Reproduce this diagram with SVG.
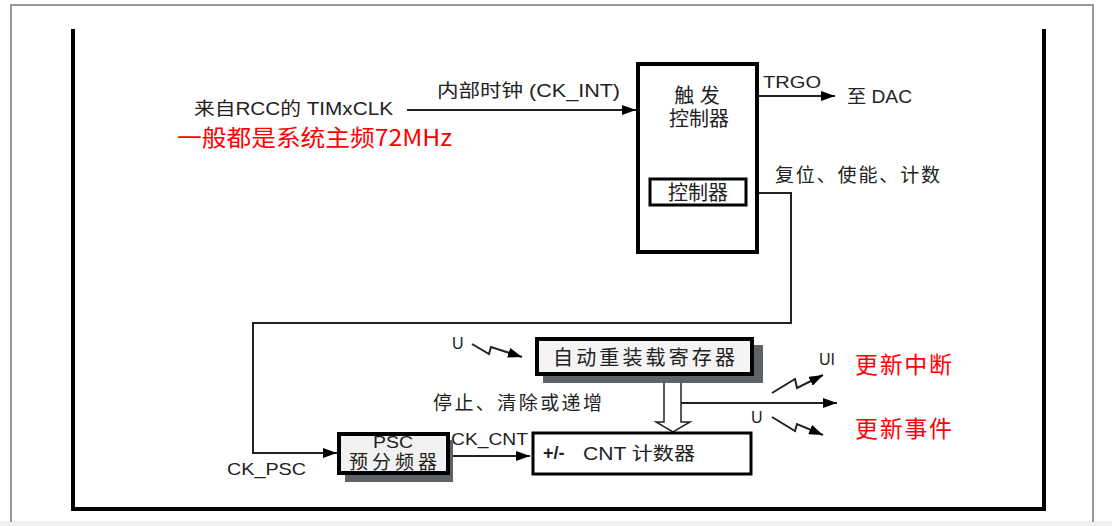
<svg xmlns="http://www.w3.org/2000/svg" width="1112" height="526" viewBox="0 0 1112 526">
<defs>
<marker id="ah" markerUnits="userSpaceOnUse" markerWidth="14" markerHeight="10" refX="14" refY="5" orient="auto"><path d="M0,0 L14,5 L0,10 z" fill="#000"/></marker>
<style>
.t{font-family:"Liberation Sans","Noto Sans CJK SC",sans-serif;fill:#222}
.r{font-family:"Noto Sans CJK SC","Liberation Sans",sans-serif;fill:#ff0000}
.c{fill:none;stroke:#222;stroke-width:2}
.box{stroke:#000;stroke-width:4}
.sh{fill:#5f6366}
</style>
</defs>
<rect width="1112" height="526" fill="#fff"/>
<rect y="521" width="1112" height="5" fill="#f0f0f0"/>
<path d="M11,522 L11,5 L1093,5 L1093,522" fill="none" stroke="#777" stroke-width="1.5"/>
<path d="M73,29 L73,509 L1044,509 L1044,29" fill="none" stroke="#000" stroke-width="4"/>

<g id="connectors">
<line class="c" x1="407" y1="110" x2="636" y2="110" marker-end="url(#ah)"/>
<line class="c" x1="759" y1="96" x2="835" y2="96" marker-end="url(#ah)"/>
<path class="c" d="M747,193 L791,193 L791,323 L253,323 L253,453 L337,453" marker-end="url(#ah)"/>
<line class="c" x1="452" y1="456" x2="530" y2="456" marker-end="url(#ah)"/>
<path class="c" d="M472,344 L489,354 L491,347 L522,357" marker-end="url(#ah)"/>
<path d="M664,375 L664,422 L656,422 L673,432 L690,422 L681,422 L681,375" fill="#fff" stroke="#222" stroke-width="1.5"/>
<line class="c" x1="681" y1="403" x2="837" y2="403" marker-end="url(#ah)"/>
<path class="c" d="M772,393 L795,379 L797,388 L823,375" marker-end="url(#ah)"/>
<path class="c" d="M772,417 L795,431 L797,424 L823,435" marker-end="url(#ah)"/>
</g>

<g id="labels">
<text class="t" x="194" y="115" font-size="18" textLength="199" lengthAdjust="spacingAndGlyphs">来自RCC的 TIMxCLK</text>
<text class="r" x="177" y="146" font-size="23" textLength="275" lengthAdjust="spacingAndGlyphs">一般都是系统主频72MHz</text>
<text class="t" x="437" y="97" font-size="18" textLength="183" lengthAdjust="spacingAndGlyphs">内部时钟 (CK_INT)</text>
<text class="t" x="763" y="88" font-size="16" textLength="58" lengthAdjust="spacingAndGlyphs">TRGO</text>
<text class="t" x="847" y="103" font-size="18" textLength="65" lengthAdjust="spacingAndGlyphs">至 DAC</text>
<text class="t" x="775" y="182" font-size="19" textLength="165">复位、使能、计数</text>
<text class="t" x="452" y="349" font-size="16">U</text>
<text class="t" x="433" y="410" font-size="19" textLength="169">停止、清除或递增</text>
<text class="t" x="819" y="365" font-size="16">UI</text>
<text class="t" x="751" y="423" font-size="16">U</text>
<text class="r" x="855" y="373" font-size="23" textLength="97">更新中断</text>
<text class="r" x="855" y="437" font-size="23" textLength="97">更新事件</text>
<text class="t" x="227" y="475" font-size="17" textLength="79" lengthAdjust="spacingAndGlyphs">CK_PSC</text>
<text class="t" x="451" y="445" font-size="17" textLength="77" lengthAdjust="spacingAndGlyphs">CK_CNT</text>
</g>

<g id="trigger">
<rect class="box" x="638" y="64" width="119" height="188" fill="#fff"/>
<text class="t" x="697" y="103" font-size="20" text-anchor="middle">触 发</text>
<text class="t" x="699" y="126" font-size="20" text-anchor="middle">控制器</text>
</g>
<g id="controller">
<rect x="650" y="179" width="96" height="26" fill="#fff" stroke="#000" stroke-width="3"/>
<text class="t" x="698" y="200" font-size="20" text-anchor="middle">控制器</text>
</g>

<g id="reload">
<rect class="sh" x="543" y="345" width="220" height="38"/>
<rect class="box" x="537" y="339" width="215" height="35" fill="#f4f4f4"/>
<text class="t" x="553" y="365" font-size="20" textLength="182">自动重装载寄存器</text>
</g>

<g id="psc">
<rect class="sh" x="345" y="440" width="108" height="42"/>
<rect class="box" x="339" y="434" width="109" height="39" fill="#f2f2f2"/>
<text class="t" x="393" y="448" font-size="16" text-anchor="middle" textLength="40" lengthAdjust="spacingAndGlyphs">PSC</text>
<text class="t" x="349" y="469" font-size="19" textLength="88">预分频器</text>
</g>

<g id="cnt">
<rect x="533" y="433" width="218" height="41" fill="#fff" stroke="#000" stroke-width="3"/>
<text class="t" x="543" y="459" font-size="18" font-weight="bold">+/-</text>
<text class="t" x="583" y="460" font-size="18" textLength="112" lengthAdjust="spacingAndGlyphs">CNT 计数器</text>
</g>
</svg>
